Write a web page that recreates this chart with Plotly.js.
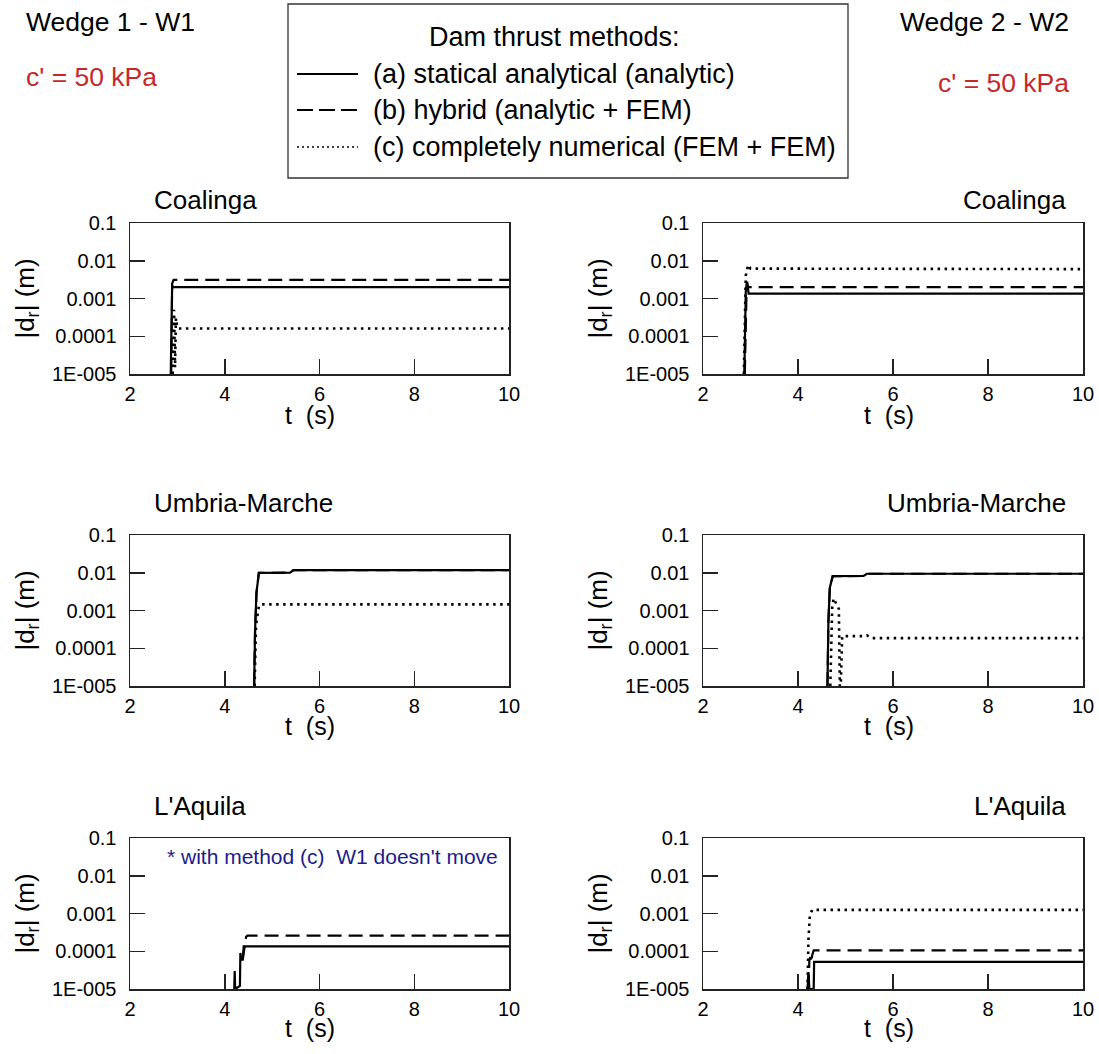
<!DOCTYPE html>
<html><head><meta charset="utf-8">
<script src="https://cdn.plot.ly/plotly-3.0.1.min.js"></script>
<style>html,body{margin:0;padding:0;background:#fff}</style>
</head><body><div id="chart" style="width:1099px;height:1054px"></div>
<script>
// ---- data ----
const methodNames = ["(a) statical analytical (analytic)", "(b) hybrid (analytic + FEM)", "(c) completely numerical (FEM + FEM)"];
const quakeNames = ["Coalinga", "Umbria-Marche", "L'Aquila"];
const yTickVals = [1e-5, 1e-4, 1e-3, 1e-2, 1e-1];
const yTickText = ["1E-005", "0.0001", "0.001", "0.01", "0.1"];
const xTickVals = [2, 4, 6, 8, 10];

// Coalinga, wedge 1
const coaW1_a_t = [2.86, 2.87, 2.89, 2.91, 10];
const coaW1_a_y = [1e-5, 0.0003, 0.0022, 0.002, 0.002];
const coaW1_b_t = [2.87, 2.89, 2.92, 10];
const coaW1_b_y = [1e-5, 0.0025, 0.0031, 0.0031];
const coaW1_c_t = [2.9, 2.93, 2.95, 2.97, 2.99, 3.02, 10];
const coaW1_c_y = [1e-5, 0.0005, 1.5e-5, 0.0003, 0.0002, 0.00016, 0.00016];
// Coalinga, wedge 2
const coaW2_a_t = [2.87, 2.9, 2.93, 2.96, 10];
const coaW2_a_y = [1e-5, 0.0015, 0.0028, 0.00135, 0.00135];
const coaW2_b_t = [2.88, 2.92, 2.95, 10];
const coaW2_b_y = [1e-5, 0.0025, 0.002, 0.002];
const coaW2_c_t = [2.86, 2.9, 2.95, 3.0, 10];
const coaW2_c_y = [1e-5, 0.004, 0.0078, 0.0062, 0.006];
// Umbria-Marche, wedge 1
const umbW1_a_t = [4.62, 4.64, 4.67, 4.72, 5.38, 5.45, 10];
const umbW1_a_y = [1e-5, 0.0003, 0.003, 0.0099, 0.0101, 0.0118, 0.0118];
const umbW1_b_t = [4.62, 4.64, 4.67, 4.72, 5.38, 5.45, 10];
const umbW1_b_y = [1e-5, 0.0003, 0.003, 0.0099, 0.0101, 0.0118, 0.0118];
const umbW1_c_t = [4.63, 4.66, 4.72, 4.76, 10];
const umbW1_c_y = [1e-5, 0.0004, 0.0013, 0.00145, 0.00145];
// Umbria-Marche, wedge 2
const umbW2_a_t = [4.62, 4.64, 4.67, 4.73, 5.38, 5.45, 10];
const umbW2_a_y = [1e-5, 0.0005, 0.004, 0.0081, 0.0082, 0.0094, 0.0094];
const umbW2_b_t = [4.62, 4.64, 4.67, 4.73, 5.38, 5.45, 10];
const umbW2_b_y = [1e-5, 0.0005, 0.004, 0.0081, 0.0082, 0.0094, 0.0094];
const umbW2_c_t = [4.68, 4.72, 4.75, 4.83, 4.86, 4.88, 4.9, 4.93, 5.4, 5.45, 5.55, 10];
const umbW2_c_y = [1e-5, 0.0012, 0.0021, 0.0013, 0.0011, 1e-5, 1e-5, 0.00021, 0.00021, 0.00022, 0.000185, 0.000185];
// L'Aquila, wedge 1 (method c: no movement)
const aqlW1_a_t = [4.2, 4.21, 4.22, 4.32, 4.33, 4.35, 4.38, 4.4, 4.45, 10];
const aqlW1_a_y = [1e-5, 3e-5, 1e-5, 1.2e-5, 9e-5, 6e-5, 6e-5, 0.000135, 0.000135, 0.000135];
const aqlW1_b_t = [4.38, 4.42, 4.45, 4.48, 10];
const aqlW1_b_y = [6e-5, 0.00015, 0.00024, 0.00026, 0.00026];
const aqlW1_c_t = [];
const aqlW1_c_y = [];
// L'Aquila, wedge 2
const aqlW2_a_t = [4.2, 4.22, 4.24, 4.33, 4.34, 4.36, 10];
const aqlW2_a_y = [1e-5, 2.8e-5, 1e-5, 1e-5, 5.2e-5, 5.2e-5, 5.2e-5];
const aqlW2_b_t = [4.22, 4.24, 4.26, 4.28, 4.3, 4.33, 10];
const aqlW2_b_y = [1e-5, 6e-5, 7e-5, 5e-5, 8e-5, 0.000105, 0.000105];
const aqlW2_c_t = [4.2, 4.22, 4.25, 4.3, 10];
const aqlW2_c_y = [1e-5, 0.0002, 0.0009, 0.00125, 0.00125];

// ---- styling ----
const W = 1099, H = 1054;
const fx = p => p / W;
const fy = p => 1 - p / H;
const FONT = "Arial, 'Liberation Sans', sans-serif";
const lineStyles = [
  {color: "#000", width: 2.2, dash: "solid"},
  {color: "#000", width: 2.2, dash: "14px,7px"},
  {color: "#000", width: 2.6, dash: "2.5px,4.5px"}
];

const panels = [
  {ax: "", sets: [[coaW1_a_t, coaW1_a_y], [coaW1_b_t, coaW1_b_y], [coaW1_c_t, coaW1_c_y]]},
  {ax: "2", sets: [[coaW2_a_t, coaW2_a_y], [coaW2_b_t, coaW2_b_y], [coaW2_c_t, coaW2_c_y]]},
  {ax: "3", sets: [[umbW1_a_t, umbW1_a_y], [umbW1_b_t, umbW1_b_y], [umbW1_c_t, umbW1_c_y]]},
  {ax: "4", sets: [[umbW2_a_t, umbW2_a_y], [umbW2_b_t, umbW2_b_y], [umbW2_c_t, umbW2_c_y]]},
  {ax: "5", sets: [[aqlW1_a_t, aqlW1_a_y], [aqlW1_b_t, aqlW1_b_y], [aqlW1_c_t, aqlW1_c_y]]},
  {ax: "6", sets: [[aqlW2_a_t, aqlW2_a_y], [aqlW2_b_t, aqlW2_b_y], [aqlW2_c_t, aqlW2_c_y]]}
];

const traces = [];
panels.forEach(p => {
  // dotted, dashed first, solid on top
  [2, 1, 0].forEach(m => {
    traces.push({
      x: p.sets[m][0], y: p.sets[m][1], type: "scatter", mode: "lines",
      name: methodNames[m], showlegend: false, hoverinfo: "skip",
      line: Object.assign({shape: "linear"}, lineStyles[m]),
      xaxis: "x" + p.ax, yaxis: "y" + p.ax
    });
  });
});

const colX = [[fx(130), fx(509)], [fx(703), fx(1083)]];
const rowY = [[fy(374), fy(223)], [fy(686), fy(535)], [fy(989), fy(838)]];

function xAxis(dom, anchor) {
  return {
    domain: dom, anchor: anchor, range: [2, 10], type: "linear",
    tickvals: xTickVals, ticktext: xTickVals.map(String),
    ticks: "inside", ticklen: 15, tickwidth: 1.5, tickcolor: "#222",
    showline: true, mirror: true, linecolor: "#222", linewidth: 1.5,
    showgrid: false, zeroline: false, ticklabelstandoff: 1,
    tickfont: {family: FONT, size: 20, color: "#000"}
  };
}
function yAxis(dom, anchor) {
  return {
    domain: dom, anchor: anchor, type: "log", range: [-5, -1],
    tickvals: yTickVals, ticktext: yTickText,
    ticks: "inside", ticklen: 15, tickwidth: 1.5, tickcolor: "#222",
    showline: true, mirror: true, linecolor: "#222", linewidth: 1.5,
    showgrid: false, zeroline: false, ticklabelstandoff: 8,
    tickfont: {family: FONT, size: 20, color: "#000"},
    title: {text: "|d<sub>r</sub>| (m)", font: {family: FONT, size: 26, color: "#000"}, standoff: 10}
  };
}

const layout = {
  width: W, height: H, margin: {l: 0, r: 0, t: 0, b: 0},
  paper_bgcolor: "#fff", plot_bgcolor: "#fff", showlegend: false,
  font: {family: FONT, color: "#000"},
  shapes: [], annotations: []
};
let k = 0;
for (let r = 0; r < 3; r++) {
  for (let c = 0; c < 2; c++) {
    const id = k === 0 ? "" : String(k + 1);
    layout["xaxis" + id] = xAxis(colX[c], "y" + id);
    layout["yaxis" + id] = yAxis(rowY[r], "x" + id);
    k++;
  }
}

// x-axis titles and subplot titles
const titleY = [200, 503, 806];
const xTitleY = [415, 726, 1028];
const xTitleX = [310, 889];
quakeNames.forEach((q, r) => {
  layout.annotations.push({text: q, xref: "paper", yref: "paper", x: fx(152), y: fy(titleY[r]),
    xanchor: "left", yanchor: "middle", showarrow: false, font: {family: FONT, size: 26, color: "#000"}});
  layout.annotations.push({text: q, xref: "paper", yref: "paper", x: fx(1068), y: fy(titleY[r]),
    xanchor: "right", yanchor: "middle", showarrow: false, font: {family: FONT, size: 26, color: "#000"}});
  xTitleX.forEach(xc => {
    layout.annotations.push({text: "t  (s)", xref: "paper", yref: "paper", x: fx(xc), y: fy(xTitleY[r]),
      xanchor: "center", yanchor: "middle", showarrow: false, font: {family: FONT, size: 25, color: "#000"}});
  });
});

// wedge labels
layout.annotations.push(
  {text: "Wedge 1 - W1", xref: "paper", yref: "paper", x: fx(24), y: fy(22), xanchor: "left", yanchor: "middle",
   showarrow: false, font: {family: FONT, size: 26.5, color: "#000"}},
  {text: "c' = 50 kPa", xref: "paper", yref: "paper", x: fx(24), y: fy(77), xanchor: "left", yanchor: "middle",
   showarrow: false, font: {family: FONT, size: 26.5, color: "#c62828"}},
  {text: "Wedge 2 - W2", xref: "paper", yref: "paper", x: fx(1071), y: fy(22), xanchor: "right", yanchor: "middle",
   showarrow: false, font: {family: FONT, size: 26.5, color: "#000"}},
  {text: "c' = 50 kPa", xref: "paper", yref: "paper", x: fx(1071), y: fy(83), xanchor: "right", yanchor: "middle",
   showarrow: false, font: {family: FONT, size: 26.5, color: "#c62828"}},
  {text: "* with method (c)  W1 doesn't move", xref: "paper", yref: "paper", x: fx(165), y: fy(856),
   xanchor: "left", yanchor: "middle", showarrow: false, font: {family: FONT, size: 21, color: "#1c1c8a"}}
);

// legend box (drawn manually)
layout.shapes.push({type: "rect", xref: "paper", yref: "paper", x0: fx(288), x1: fx(848), y0: fy(178), y1: fy(4),
  line: {color: "#333", width: 1.3}, fillcolor: "rgba(0,0,0,0)"});
layout.annotations.push({text: "Dam thrust methods:", xref: "paper", yref: "paper", x: fx(554), y: fy(37),
  xanchor: "center", yanchor: "middle", showarrow: false, font: {family: FONT, size: 27, color: "#000"}});
const legY = [74, 110, 147];
const legStyles = [
  {color: "#000", width: 2, dash: "solid"},
  {color: "#000", width: 2.2, dash: "16px,6px"},
  {color: "#000", width: 1.6, dash: "2px,3px"}
];
methodNames.forEach((n, i) => {
  layout.shapes.push({type: "line", xref: "paper", yref: "paper", x0: fx(297), x1: fx(358), y0: fy(legY[i]), y1: fy(legY[i]),
    line: legStyles[i]});
  layout.annotations.push({text: n, xref: "paper", yref: "paper", x: fx(371), y: fy(legY[i]),
    xanchor: "left", yanchor: "middle", showarrow: false, font: {family: FONT, size: 27, color: "#000"}});
});

Plotly.newPlot("chart", traces, layout, {staticPlot: true, displayModeBar: false});
</script>
</body></html>
